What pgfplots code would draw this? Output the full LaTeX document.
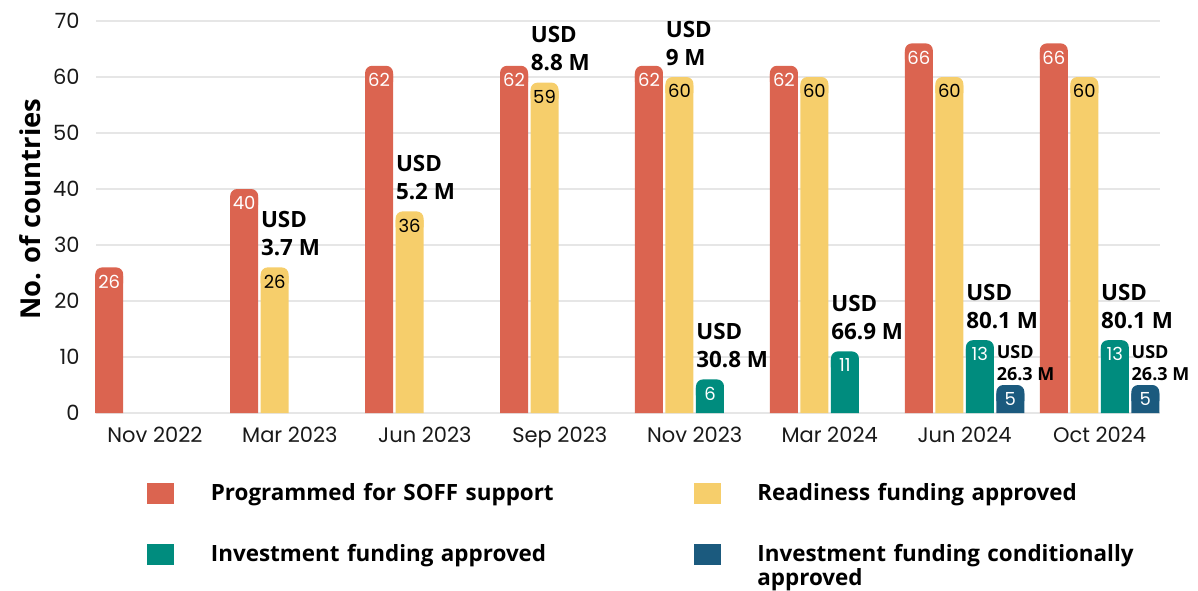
\documentclass[border=0pt]{standalone}
\usepackage{pgfplots}
\pgfplotsset{compat=1.18}
\usepackage{fontspec}
\setmainfont{Open Sans}
\newfontfamily\pop{Poppins}
\definecolor{cRed}{HTML}{DB6450}
\definecolor{cYel}{HTML}{F6CE6B}
\definecolor{cTeal}{HTML}{008C7E}
\definecolor{cBlue}{HTML}{1B5A7E}
\definecolor{cGrid}{HTML}{E6E6E6}

% rounded top of a bar (14pt wide)
\pgfdeclareplotmark{captop}{%
  \pgfpathmoveto{\pgfqpoint{-7pt}{-8pt}}%
  \pgfpathlineto{\pgfqpoint{-7pt}{-3.5pt}}%
  \pgfpatharc{180}{90}{3.5pt}%
  \pgfpathlineto{\pgfqpoint{3.5pt}{0pt}}%
  \pgfpatharc{90}{0}{3.5pt}%
  \pgfpathlineto{\pgfqpoint{7pt}{-8pt}}%
  \pgfpathclose
  \pgfusepathqfill
}

\pgfplotsset{
  sq/.style 2 args={ybar, bar width=14pt, draw=none, fill=#2, forget plot, bar shift=#1,
    y filter/.expression={y-1.5}},
  cap/.style n args={3}{only marks, mark=captop, forget plot, fill=#2,
    mark options={fill=#2, draw=none, xshift=#1},
    nodes near coords,
    every node near coord/.append style={anchor=center, yshift=-7pt, inner sep=0pt,
      text=#3, font=\pop\fontsize{9}{10}\selectfont}},
  usd/.style={ybar, bar width=14pt, draw=none, fill=none, forget plot,
    point meta=explicit symbolic, nodes near coords,
    every node near coord/.append style={anchor=south west, xshift=#1-7pt, yshift=5.5pt,
      inner sep=0pt, text=black, font=\bfseries\fontsize{11.2}{14}\selectfont}},
  usdsmall/.style={usd=#1,
    every node near coord/.append style={yshift=-3.5pt, font=\bfseries\fontsize{9}{11}\selectfont}},
}

\begin{document}
\begin{tikzpicture}
\begin{axis}[
  scale only axis, width=532pt, height=196pt,
  xmin=-0.437, xmax=7.448, ymin=0, ymax=70,
  xtick={0,1,2,3,4,5,6,7},
  xticklabels={Nov 2022, Mar 2023, Jun 2023, Sep 2023, Nov 2023, Mar 2024, Jun 2024, Oct 2024},
  ytick={0,10,20,30,40,50,60,70},
  major tick length=0pt,
  axis line style={draw=none},
  ymajorgrids, grid style={cGrid, line width=0.75pt},
  /pgf/number format/assume math mode=true,
  tick label style={font=\pop\fontsize{10.5}{12}\selectfont, text=black!90},
  xticklabel style={anchor=north, inner sep=0pt, yshift=-7pt},
  yticklabel style={anchor=east, inner sep=0pt, xshift=-8pt},
  ylabel={No. of countries},
  ylabel style={font=\bfseries\fontsize{13.7}{16}\selectfont, at={(axis description cs:-0.062,0.52)}, anchor=center},
  legend columns=2,
  legend cell align=left,
  legend image code/.code={\fill[#1] (0pt,-5.25pt) rectangle (13.5pt,5.25pt);},
  legend style={at={(0,0)}, anchor=north west, xshift=25.5pt, yshift=-35pt,
    draw=none, fill=none, inner sep=0pt, row sep=20pt,
    nodes={inner sep=0pt, text width=190pt, align=left, font=\bfseries\fontsize{11.2}{12}\selectfont},
    /tikz/every odd column/.append style={column sep=18.25pt},
    /tikz/every even column/.append style={column sep=51.5pt}},
  clip=false,
]
% legend images
\addlegendimage{fill=cRed, draw=none}
\addlegendentry{Programmed for SOFF support}
\addlegendimage{fill=cYel, draw=none}
\addlegendentry{Readiness funding approved}
\addlegendimage{fill=cTeal, draw=none}
\addlegendentry{Investment funding approved}
\addlegendimage{fill=cBlue, draw=none}
\addlegendentry{Investment funding conditionally\\approved}

% Programmed for SOFF support
\addplot[sq={-22.875pt}{cRed}] coordinates {(0,26) (1,40) (2,62) (3,62) (4,62) (5,62) (6,66) (7,66)};
\addplot[cap={-22.875pt}{cRed}{white}] coordinates {(0,26) (1,40) (2,62) (3,62) (4,62) (5,62) (6,66) (7,66)};
% Readiness funding approved
\addplot[sq={-7.625pt}{cYel}] coordinates {(1,26) (2,36) (3,59) (4,60) (5,60) (6,60) (7,60)};
\addplot[cap={-7.625pt}{cYel}{black}] coordinates {(1,26) (2,36) (3,59) (4,60) (5,60) (6,60) (7,60)};
% Investment funding approved
\addplot[sq={7.625pt}{cTeal}] coordinates {(4,6) (5,11) (6,13) (7,13)};
\addplot[cap={7.625pt}{cTeal}{white}] coordinates {(4,6) (5,11) (6,13) (7,13)};
% Investment funding conditionally approved
\addplot[sq={22.875pt}{cBlue}] coordinates {(6,5) (7,5)};
\addplot[cap={22.875pt}{cBlue}{white}] coordinates {(6,5) (7,5)};

% USD amount labels
\addplot[usd=-7.625pt] coordinates {
  (1,26) [\vbox{\hbox{USD}\hbox{3.7 M}}]
  (2,36) [\vbox{\hbox{USD}\hbox{5.2 M}}]
  (3,59) [\vbox{\hbox{USD}\hbox{8.8 M}}]
  (4,60) [\vbox{\hbox{USD}\hbox{9 M}}]
};
\addplot[usd=7.625pt] coordinates {
  (4,6) [\vbox{\hbox{USD}\hbox{30.8 M}}]
  (5,11) [\vbox{\hbox{USD}\hbox{66.9 M}}]
  (6,13) [\vbox{\hbox{USD}\hbox{80.1 M}}]
  (7,13) [\vbox{\hbox{USD}\hbox{80.1 M}}]
};
\addplot[usdsmall=22.875pt] coordinates {
  (6,5) [\vbox{\hbox{USD}\hbox{26.3 M}}]
  (7,5) [\vbox{\hbox{USD}\hbox{26.3 M}}]
};
\end{axis}
\pgfresetboundingbox
\useasboundingbox (-48pt,-88.5pt) rectangle (551pt,206.5pt);
\end{tikzpicture}
\end{document}
